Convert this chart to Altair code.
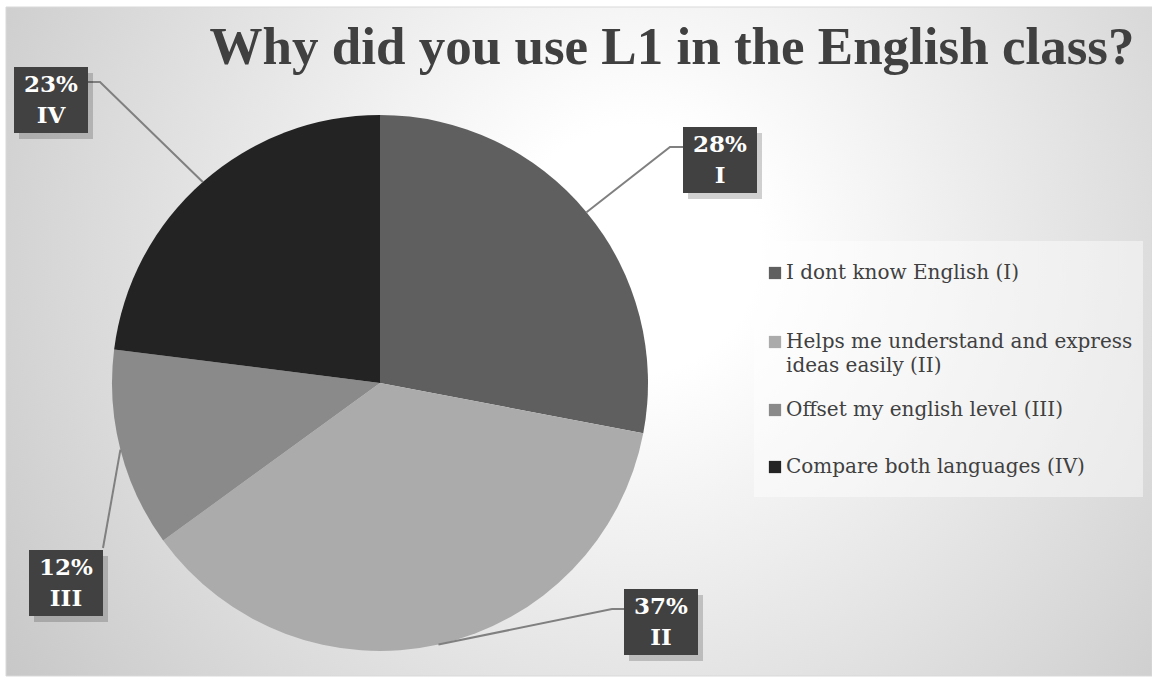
import math
import altair as alt
import pandas as pd

# ---------------- data ----------------
categories = [
    "I dont know English (I)",
    "Helps me understand and express ideas easily (II)",
    "Offset my english level (III)",
    "Compare both languages (IV)",
]
legend_text = [
    "I dont know English (I)",
    "Helps me understand and express\nideas easily (II)",
    "Offset my english level (III)",
    "Compare both languages (IV)",
]
roman = ["I", "II", "III", "IV"]
percents = [28, 37, 12, 23]
colors = ["#5f5f5f", "#ababab", "#8a8a8a", "#232323"]
title_text = "Why did you use L1 in the English class?"

# ---------------- layout ----------------
W, H = 1152, 677
CX, CY, R = 380, 383, 268
label_center = [(720, 160), (661, 622), (66, 583), (51, 100)]
BOX_W, BOX_H = 74, 66
LINE_H = 31
# leader end (at label box) and optional elbow
leader_end = [(683, 147), (624, 609), (103, 548), (88, 82)]
leader_elbow = [(670, 147), (612, 609), None, (100, 82)]
legend_row_y = [273, 342, 410, 467]
FONT = "DejaVu Serif"

xs = alt.Scale(domain=[0, W], range=[0, W])
ys = alt.Scale(domain=[0, H], range=[0, H])
cscale = alt.Scale(domain=categories, range=colors)

# background
bg = alt.Chart(pd.DataFrame({"a": [0]})).mark_rect(
    fill=alt.Gradient(
        gradient="radial",
        stops=[alt.GradientStop(color="#ffffff", offset=0),
               alt.GradientStop(color="#ffffff", offset=0.15),
               alt.GradientStop(color="#c2c2c2", offset=1)],
        x1=0.55, y1=0.42, x2=0.55, y2=0.42, r1=0, r2=0.72),
    stroke="#d9d9d9", strokeWidth=1,
).encode(x=alt.value(6), x2=alt.value(W), y=alt.value(7), y2=alt.value(676))

# pie
pie_df = pd.DataFrame({"cat": categories, "pct": percents, "idx": range(4)})
pie = alt.Chart(pie_df).mark_arc(radius=R).encode(
    theta=alt.Theta("pct:Q", stack=True),
    color=alt.Color("cat:N", scale=cscale, legend=None),
    order=alt.Order("idx:Q"),
    x=alt.value(CX), y=alt.value(CY),
)

# leader lines
rows = []
cum = 0
for i, p in enumerate(percents):
    a = 2 * math.pi * (cum + p / 2) / 100
    cum += p
    pts = [(CX + R * math.sin(a), CY - R * math.cos(a))]
    if leader_elbow[i] is not None:
        pts.append(leader_elbow[i])
    pts.append(leader_end[i])
    for k, (px, py) in enumerate(pts):
        rows.append({"seg": roman[i], "k": k, "x": px, "y": py})
lines = alt.Chart(pd.DataFrame(rows)).mark_line(color="#808080", strokeWidth=2).encode(
    x=alt.X("x:Q", scale=xs, axis=None),
    y=alt.Y("y:Q", scale=ys, axis=None),
    detail="seg:N", order="k:Q",
)

# label boxes
lab_df = pd.DataFrame({
    "cx": [c[0] for c in label_center],
    "cy": [c[1] for c in label_center],
    "txt": [f"{p}%\n{r}" for p, r in zip(percents, roman)],
})
lab_df["ty"] = lab_df.cy - LINE_H / 2
lab_df["x0"] = lab_df.cx - BOX_W / 2
lab_df["x1"] = lab_df.cx + BOX_W / 2
lab_df["y0"] = lab_df.cy - BOX_H / 2
lab_df["y1"] = lab_df.cy + BOX_H / 2
lab_df["sx0"] = lab_df.x0 + 5
lab_df["sx1"] = lab_df.x1 + 5
lab_df["sy0"] = lab_df.y0 + 6
lab_df["sy1"] = lab_df.y1 + 6

shadow = alt.Chart(lab_df).mark_rect(fill="#000000", opacity=0.18).encode(
    x=alt.X("sx0:Q", scale=xs, axis=None), x2="sx1:Q",
    y=alt.Y("sy0:Q", scale=ys, axis=None), y2="sy1:Q",
)
boxes = alt.Chart(lab_df).mark_rect(fill="#414141").encode(
    x=alt.X("x0:Q", scale=xs, axis=None), x2="x1:Q",
    y=alt.Y("y0:Q", scale=ys, axis=None), y2="y1:Q",
)
lab_text = alt.Chart(lab_df).mark_text(
    font=FONT, fontSize=23, fontWeight="bold", color="#ffffff",
    lineBreak="\n", lineHeight=LINE_H, baseline="middle", align="center",
).encode(
    x=alt.X("cx:Q", scale=xs, axis=None),
    y=alt.Y("ty:Q", scale=ys, axis=None),
    text="txt:N",
)

# legend
leg_bg = alt.Chart(pd.DataFrame({"a": [0]})).mark_rect(
    fill="#ffffff", opacity=0.45
).encode(x=alt.value(754), x2=alt.value(1143), y=alt.value(241), y2=alt.value(497))
leg_df = pd.DataFrame({
    "cat": categories, "lab": legend_text, "ty": legend_row_y,
})
leg_sq = alt.Chart(leg_df).mark_square(size=150, opacity=1).encode(
    x=alt.value(775),
    y=alt.Y("ty:Q", scale=ys, axis=None),
    color=alt.Color("cat:N", scale=cscale, legend=None),
)
leg_txt = alt.Chart(leg_df).mark_text(
    font=FONT, fontSize=20, color="#404040", align="left", baseline="middle",
    lineBreak="\n", lineHeight=24,
).encode(
    x=alt.value(786),
    y=alt.Y("ty:Q", scale=ys, axis=None),
    text="lab:N",
)

title = alt.Chart(pd.DataFrame({"t": [title_text]})).mark_text(
    font="Liberation Serif", fontSize=53, fontWeight="bold", color="#404040",
    align="center", baseline="middle",
).encode(x=alt.value(672), y=alt.value(48), text="t:N")

chart = alt.layer(
    bg, pie, lines, shadow, boxes, lab_text, leg_bg, leg_sq, leg_txt, title
).properties(
    width=W, height=H, autosize=alt.AutoSizeParams(type="none"), padding=0,
    background="#ffffff",
).configure_view(stroke=None)

chart.save("out.html", embed_options={"renderer": "svg", "actions": False})
